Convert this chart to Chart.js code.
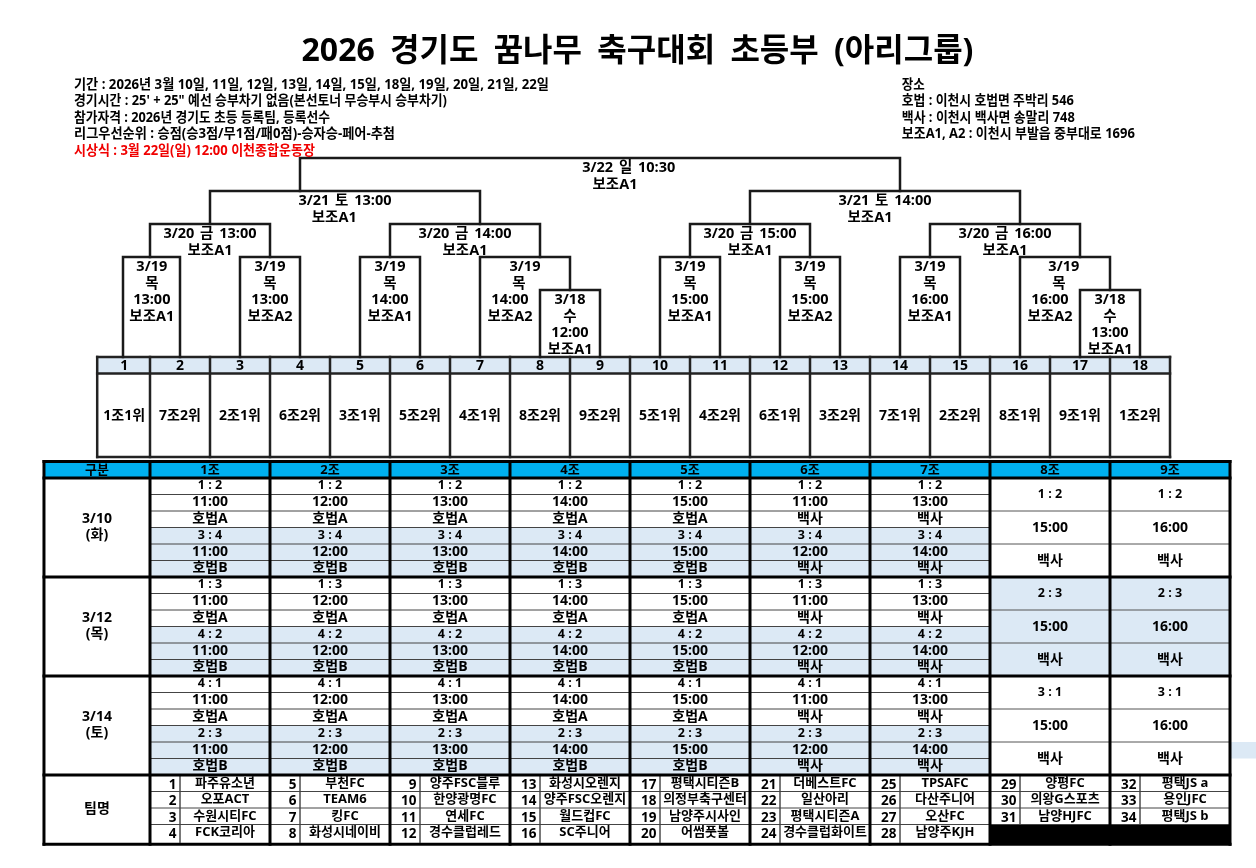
<!DOCTYPE html>
<html lang="ko">
<head>
<meta charset="utf-8">
<title>2026 경기도 꿈나무 축구대회 초등부 (아리그룹)</title>
<script src="https://cdn.jsdelivr.net/npm/chart.js@4/dist/chart.umd.min.js"></script>
<style>
  html, body { margin: 0; padding: 0; background: #fff; overflow: hidden; }
  canvas { display: block; }
</style>
</head>
<body>
<!-- 캔버스를 창보다 조금 넓게 잡아서 차트 제목 중심을 원본 위치에 맞춘다 -->
<canvas id="bracketChart" width="1275" height="868"></canvas>
<script>
// === 1. 데이터 ===
var titleText = '2026 경기도 꿈나무 축구대회 초등부 (아리그룹)';

var infoLines = [
  '기간 : 2026년 3월 10일, 11일, 12일, 13일, 14일, 15일, 18일, 19일, 20일, 21일, 22일',
  '경기시간 : 25\' + 25" 예선 승부차기 없음(본선토너 무승부시 승부차기)',
  '참가자격 : 2026년 경기도 초등 등록팀, 등록선수',
  '리그우선순위 : 승점(승3점/무1점/패0점)-승자승-페어-추첨',
  '시상식 : 3월 22일(일) 12:00 이천종합운동장'
];
var placeLines = [
  '장소',
  '호법 : 이천시 호법면 주박리 546',
  '백사 : 이천시 백사면 송말리 748',
  '보조A1, A2 : 이천시 부발읍 중부대로 1696'
];

var seeds = ['1조1위', '7조2위', '2조1위', '6조2위', '3조1위', '5조2위', '4조1위', '8조2위', '9조2위',
  '5조1위', '4조2위', '6조1위', '3조2위', '7조1위', '2조2위', '8조1위', '9조1위', '1조2위'];

var groupNames = ['1조', '2조', '3조', '4조', '5조', '6조', '7조', '8조', '9조'];
var dayLabels = [['3/10', '(화)'], ['3/12', '(목)'], ['3/14', '(토)']];
var pairings = [['1 : 2', '3 : 4'], ['1 : 3', '4 : 2'], ['4 : 1', '2 : 3']];
var firstTimes = ['11:00', '12:00', '13:00', '14:00', '15:00', '11:00', '13:00'];
var secondTimes = ['11:00', '12:00', '13:00', '14:00', '15:00', '12:00', '14:00'];
var firstVenues = ['호법A', '호법A', '호법A', '호법A', '호법A', '백사', '백사'];
var secondVenues = ['호법B', '호법B', '호법B', '호법B', '호법B', '백사', '백사'];
var lastPairings = ['1 : 2', '2 : 3', '3 : 1'];
var lastTimes = ['15:00', '16:00'];
var lastVenue = '백사';

var teamHeader = '팀명';
var cornerHeader = '구분';
var teams = ['파주유소년', '오포ACT', '수원시티FC', 'FCK코리아', '부천FC', 'TEAM6', '킹FC', '화성시네이비',
  '양주FSC블루', '한양광명FC', '연세FC', '경수클럽레드', '화성시오렌지', '양주FSC오렌지', '월드컵FC', 'SC주니어',
  '평택시티즌B', '의정부축구센터', '남양주시사인', '어썸풋볼', '더베스트FC', '일산아리', '평택시티즌A', '경수클럽화이트',
  'TPSAFC', '다산주니어', '오산FC', '남양주KJH', '양평FC', '의왕G스포츠', '남양HJFC', '평택JS a', '용인JFC', '평택JS b'];

// 대진표 연결선: [왼쪽 슬롯, 오른쪽 슬롯, 단계, 왼쪽 아래 단계, 오른쪽 아래 단계] (단계 5 = 번호칸 위)
var bracketMatches = [
  [4, 14, 0, 1, 1],
  [2.5, 7, 1, 2, 2], [11.5, 16, 1, 2, 2],
  [1.5, 3.5, 2, 3, 3], [5.5, 8, 2, 3, 3], [10.5, 12.5, 2, 3, 3], [14.5, 17, 2, 3, 3],
  [1.05, 2, 3, 5, 5], [3, 4, 3, 5, 5], [5, 6, 3, 5, 5], [7, 8.5, 3, 5, 4],
  [10, 11, 3, 5, 5], [12, 13, 3, 5, 5], [14, 15, 3, 5, 5], [16, 17.5, 3, 5, 4],
  [8, 9, 4, 5, 5], [17, 18, 4, 5, 5]
];

var bracketTexts = [
  ['3/22 일 10:30', '보조A1'],
  ['3/21 토 13:00', '보조A1'], ['3/21 토 14:00', '보조A1'],
  ['3/20 금 13:00', '보조A1'], ['3/20 금 14:00', '보조A1'], ['3/20 금 15:00', '보조A1'], ['3/20 금 16:00', '보조A1'],
  ['3/19', '목', '13:00', '보조A1'], ['3/19', '목', '13:00', '보조A2'], ['3/19', '목', '14:00', '보조A1'], ['3/19', '목', '14:00', '보조A2'],
  ['3/19', '목', '15:00', '보조A1'], ['3/19', '목', '15:00', '보조A2'], ['3/19', '목', '16:00', '보조A1'], ['3/19', '목', '16:00', '보조A2'],
  ['3/18', '수', '12:00', '보조A1'], ['3/18', '수', '13:00', '보조A1']
];

// === 2. 배치 값 (x: 슬롯 단위, y: 표의 행 단위) ===
var LEVEL_ROWS = [-19.4, -17.4, -15.4, -13.4, -11.4, -7.33];
var SEED_BAND_BOTTOM = -6.33;
var SEED_BOTTOM = -1.27;
var TABLE_LEFT = -0.267;
var SEED_LEFT = 0.62;
var TABLE_RIGHT = 19.5;
var TEAM_BOTTOM = 22.1;
var TABLE_BOTTOM = 22.2;

var bracketTextSlots = [
  [9.48, 9.25], [4.75, 4.57], [13.75, 13.5],
  [2.5, 2.5], [6.75, 6.75], [11.5, 11.5], [15.75, 15.75],
  [1.53, 1.53, 1.53, 1.53], [3.5, 3.5, 3.5, 3.5], [5.5, 5.5, 5.5, 5.5], [7.75, 7.65, 7.5, 7.5],
  [10.5, 10.5, 10.5, 10.5], [12.5, 12.5, 12.5, 12.5], [14.5, 14.5, 14.5, 14.5], [16.73, 16.65, 16.5, 16.5],
  [8.5, 8.5, 8.5, 8.5], [17.5, 17.5, 17.5, 17.5]
];
var bracketTextRows = [-18.85, -16.85, -16.85, -14.85, -14.85, -14.85, -14.85,
  -12.85, -12.85, -12.85, -12.85, -12.85, -12.85, -12.85, -12.85, -10.85, -10.85];

var PALE_BLUE = '#dce9f5';
var HEADER_BLUE = '#00b0f0';
var FONT = '"Open Sans", "Noto Sans CJK KR", sans-serif';

function groupLeft(i) { return 1.5 + 2 * i; }

// === 3. 선 데이터셋: 앞에 넣은 것이 위에 그려지므로 굵은 선부터 ===
var lineSets = [];

function addLine(points, color, width) {
  lineSets.push({
    data: points,
    showLine: true,
    pointRadius: 0,
    borderColor: color,
    borderWidth: width,
    borderCapStyle: 'square',
    borderJoinStyle: 'miter',
    tension: 0
  });
}
function addH(x0, x1, row, color, width) { addLine([{ x: x0, y: row }, { x: x1, y: row }], color, width); }
function addV(x, row0, row1, color, width) { addLine([{ x: x, y: row0 }, { x: x, y: row1 }], color, width); }

// 표 굵은 선
[-1, 0, 6, 12, 18].forEach(function (row) { addH(TABLE_LEFT, groupLeft(9), row, '#000', 3); });
addH(TABLE_LEFT, groupLeft(9), TABLE_BOTTOM, '#000', 3);
addV(TABLE_LEFT, -1, TABLE_BOTTOM, '#000', 3);
for (var g = 0; g <= 9; g++) addV(groupLeft(g), -1, TABLE_BOTTOM, '#000', 3);

// 대진표 연결선
bracketMatches.forEach(function (m) {
  addLine([
    { x: m[0], y: LEVEL_ROWS[m[3]] },
    { x: m[0], y: LEVEL_ROWS[m[2]] },
    { x: m[1], y: LEVEL_ROWS[m[2]] },
    { x: m[1], y: LEVEL_ROWS[m[4]] }
  ], '#1a1a1a', 2.5);
});

// 번호칸 / 순위칸
[LEVEL_ROWS[5], SEED_BAND_BOTTOM, SEED_BOTTOM].forEach(function (row) { addH(SEED_LEFT, 18.5, row, '#222', 2.5); });
addV(SEED_LEFT, LEVEL_ROWS[5], SEED_BOTTOM, '#222', 2.5);
for (var s = 1; s <= 18; s++) addV(s + 0.5, LEVEL_ROWS[5], SEED_BOTTOM, '#222', 2.5);

// 표 가는 선
for (var col = 0; col < 9; col++) {
  var lx0 = groupLeft(col), lx1 = groupLeft(col + 1);
  for (var r = 1; r < 18; r++) {
    if (r % 6 === 0) continue;
    if (col < 7) addH(lx0, lx1, r, '#444', 1);
    else if (r % 2 === 0) addH(lx0, lx1, r, '#555', 1);
  }
  [19, 20, 21].forEach(function (row) { addH(lx0, lx1, row, '#444', 1); });
  addV(lx0 + 0.5, 18, col < 7 ? TEAM_BOTTOM : 21, '#666', 1);
}

// === 4. 칸 채우기와 글자 플러그인 ===
var tablePlugin = {
  id: 'tablePlugin',
  beforeDraw: function (chart) {
    // 원본 제목은 단어 사이가 넓다
    chart.ctx.wordSpacing = '7px';
  },
  beforeDatasetsDraw: function (chart) {
    var ctx = chart.ctx, xs = chart.scales.x, ys = chart.scales.y;
    function fillCell(x0, x1, row0, row1, color) {
      var px = xs.getPixelForValue(x0), py = ys.getPixelForValue(row0);
      ctx.fillStyle = color;
      ctx.fillRect(px, py, xs.getPixelForValue(x1) - px, ys.getPixelForValue(row1) - py);
    }
    ctx.wordSpacing = '0px';
    ctx.save();
    fillCell(TABLE_LEFT, groupLeft(9), -1, 0, HEADER_BLUE);
    fillCell(SEED_LEFT, 18.5, LEVEL_ROWS[5], SEED_BAND_BOTTOM, PALE_BLUE);
    pairings.forEach(function (p, block) {
      fillCell(groupLeft(0), groupLeft(7), block * 6 + 3, block * 6 + 6, PALE_BLUE);
    });
    fillCell(groupLeft(7), groupLeft(9), 6, 12, PALE_BLUE);
    fillCell(groupLeft(9), TABLE_RIGHT + 1, 16, 17, PALE_BLUE);
    fillCell(groupLeft(7), groupLeft(9), 21, TABLE_BOTTOM, '#000');
    ctx.restore();
  },
  afterDatasetsDraw: function (chart) {
    var ctx = chart.ctx, xs = chart.scales.x, ys = chart.scales.y;
    function put(text, x, row, size, opts) {
      opts = opts || {};
      ctx.font = 'bold ' + size + 'px ' + FONT;
      ctx.fillStyle = opts.color || '#000';
      ctx.textAlign = opts.align || 'center';
      ctx.textBaseline = 'middle';
      ctx.wordSpacing = opts.gap || '0px';
      var py = ys.getPixelForValue(row) + 1;
      if (opts.maxWidth) ctx.fillText(text, xs.getPixelForValue(x), py, opts.maxWidth);
      else ctx.fillText(text, xs.getPixelForValue(x), py);
    }
    ctx.save();

    // 안내 문구
    var infoWidths = [475, 373, 256, 321, 241];
    infoLines.forEach(function (line, i) {
      put(line, 0.233, -23.9 + i, 14, { align: 'left', maxWidth: infoWidths[i], color: i === 4 ? '#f00000' : '#000' });
    });
    var placeWidths = [23, 172, 173, 233];
    placeLines.forEach(function (line, i) {
      put(line, 14.03, -23.9 + i, 14, { align: 'left', maxWidth: placeWidths[i] });
    });

    // 대진 일정
    bracketTexts.forEach(function (lines, i) {
      lines.forEach(function (line, j) {
        put(line, bracketTextSlots[i][j], bracketTextRows[i] + j, 14.5, { gap: '2px' });
      });
    });

    // 번호와 순위
    seeds.forEach(function (seed, i) {
      var x = i === 0 ? 1.07 : i + 1;
      put(String(i + 1), x, (LEVEL_ROWS[5] + SEED_BAND_BOTTOM) / 2, 14);
      put(seed, x, -3.82, 14);
    });

    // 조별 일정
    put(cornerHeader, (TABLE_LEFT + 1.5) / 2, -0.53, 13);
    groupNames.forEach(function (name, i) { put(name, groupLeft(i) + 1, -0.53, 13); });
    dayLabels.forEach(function (lines, block) {
      put(lines[0], (TABLE_LEFT + 1.5) / 2, block * 6 + 2.4, 14);
      put(lines[1], (TABLE_LEFT + 1.5) / 2, block * 6 + 3.4, 14);
    });
    pairings.forEach(function (pair, block) {
      var top = block * 6;
      for (var c = 0; c < 7; c++) {
        var cx = groupLeft(c) + 1;
        put(pair[0], cx, top + 0.42, 12.5);
        put(firstTimes[c], cx, top + 1.42, 14);
        put(firstVenues[c], cx, top + 2.42, 14);
        put(pair[1], cx, top + 3.45, 12.5);
        put(secondTimes[c], cx, top + 4.42, 14);
        put(secondVenues[c], cx, top + 5.42, 14);
      }
      lastTimes.forEach(function (time, n) {
        var cx = groupLeft(7 + n) + 1;
        put(lastPairings[block], cx, top + 0.95, 12.5);
        put(time, cx, top + 3, 14);
        put(lastVenue, cx, top + 4.97, 14);
      });
    });

    // 팀 목록
    put(teamHeader, (TABLE_LEFT + 1.5) / 2, 20, 14);
    teams.forEach(function (team, i) {
      var c, n;
      if (i < 28) { c = Math.floor(i / 4); n = i % 4; }
      else { c = 7 + Math.floor((i - 28) / 3); n = (i - 28) % 3; }
      var left = groupLeft(c);
      put(String(i + 1), left + 0.44, 18.55 + n, 13.5, { align: 'right' });
      put(team, left + 1.25, 18.42 + n, 13, { maxWidth: 85 });
    });
    ctx.restore();
  }
};

// === 5. 차트 초기화 ===
new Chart(document.getElementById('bracketChart').getContext('2d'), {
  type: 'scatter',
  data: { datasets: lineSets },
  plugins: [tablePlugin],
  options: {
    responsive: false,
    animation: false,
    layout: { padding: 0 },
    events: [],
    plugins: {
      legend: { display: false },
      tooltip: { enabled: false },
      title: {
        display: true,
        text: titleText,
        color: '#000',
        font: { family: FONT, size: 32, weight: 'bold', lineHeight: 1.125 },
        padding: { top: 34, bottom: 2 }
      }
    },
    scales: {
      x: { type: 'linear', display: false, min: -1, max: 20.25 },
      y: { type: 'linear', display: false, reverse: true, min: -24.606, max: 23.636 }
    }
  }
});
</script>
</body>
</html>
